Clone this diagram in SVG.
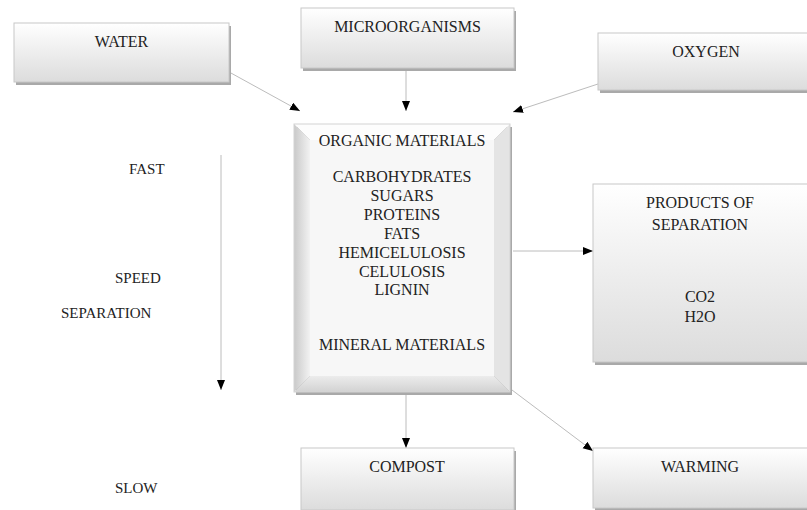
<svg xmlns="http://www.w3.org/2000/svg" width="807" height="510" viewBox="0 0 807 510">
<defs>
<linearGradient id="g" x1="0" y1="0" x2="0" y2="1">
<stop offset="0" stop-color="#ffffff"/>
<stop offset="1" stop-color="#dcdcdc"/>
</linearGradient>
<linearGradient id="gl" x1="0" y1="0" x2="1" y2="0">
<stop offset="0" stop-color="#c9c9c9"/>
<stop offset="1" stop-color="#f2f2f2"/>
</linearGradient>
<linearGradient id="gb" x1="0" y1="0" x2="0" y2="1">
<stop offset="0" stop-color="#ececec"/>
<stop offset="1" stop-color="#d2d2d2"/>
</linearGradient>
<marker id="ah" markerWidth="11" markerHeight="9" refX="10" refY="4" orient="auto" markerUnits="userSpaceOnUse">
<path d="M0,0 L10,4 L0,8 z" fill="#000"/>
</marker>
<style>
.box{fill:url(#g);stroke:#c8c8c8;stroke-width:1}
.sh{fill:#a9a9a9}
text{font-family:"Liberation Serif",Tinos,"Noto Serif","DejaVu Serif",FreeSerif,serif}
.t{font-size:16px;fill:#222;text-anchor:middle}
.l{font-size:15px;fill:#222}
.c{stroke:#bcbcbc;stroke-width:1;fill:none;marker-end:url(#ah)}
</style>
</defs>
<rect width="807" height="510" fill="#fff"/>

<g id="connectors">
<line class="c" x1="220" y1="67" x2="300" y2="111"/>
<line class="c" x1="406" y1="69" x2="406" y2="111"/>
<line class="c" x1="604" y1="82" x2="513" y2="112"/>
<line class="c" x1="221" y1="155" x2="221" y2="390"/>
<line class="c" x1="513" y1="251" x2="593" y2="251"/>
<line class="c" x1="406" y1="393" x2="406" y2="448"/>
<line class="c" x1="512" y1="390" x2="593" y2="451"/>
</g>

<g id="water">
<rect class="sh" x="16" y="26" width="215" height="59"/>
<rect class="box" x="14" y="23" width="215" height="59"/>
<text class="t" x="121.5" y="47">WATER</text>
</g>

<g id="microorganisms">
<rect class="sh" x="303" y="11" width="213" height="60"/>
<rect class="box" x="301" y="8" width="213" height="60"/>
<text class="t" x="407.5" y="32">MICROORGANISMS</text>
</g>

<g id="oxygen">
<rect class="sh" x="600" y="36" width="215" height="57"/>
<rect class="box" x="598" y="33" width="215" height="57"/>
<text class="t" x="706" y="57">OXYGEN</text>
</g>

<g id="materials">
<rect class="sh" x="296" y="127" width="216" height="268"/>
<polygon points="294,124 510,124 494,140 310,140" fill="#fdfdfd"/>
<polygon points="510,124 510,392 494,376 494,140" fill="#e4e4e4"/>
<polygon points="294,392 510,392 494,376 310,376" fill="url(#gb)"/>
<polygon points="294,124 310,140 310,376 294,392" fill="url(#gl)"/>
<rect x="310" y="140" width="184" height="236" fill="#f7f7f7"/>
<rect x="294" y="124" width="216" height="268" fill="none" stroke="#d4d4d4" stroke-width="1"/>
<text class="t" x="402" y="146">ORGANIC MATERIALS</text>
<text class="t" x="402" y="182">CARBOHYDRATES</text>
<text class="t" x="402" y="201">SUGARS</text>
<text class="t" x="402" y="220">PROTEINS</text>
<text class="t" x="402" y="239">FATS</text>
<text class="t" x="402" y="258">HEMICELULOSIS</text>
<text class="t" x="402" y="277">CELULOSIS</text>
<text class="t" x="402" y="295">LIGNIN</text>
<text class="t" x="402" y="350">MINERAL MATERIALS</text>
</g>

<g id="products">
<rect class="sh" x="595" y="187" width="214" height="178"/>
<rect class="box" x="593" y="184" width="216" height="178"/>
<text class="t" x="700" y="208">PRODUCTS OF</text>
<text class="t" x="700" y="230">SEPARATION</text>
<text class="t" x="700" y="302">CO2</text>
<text class="t" x="700" y="322">H2O</text>
</g>

<g id="compost">
<rect class="sh" x="303" y="451" width="213" height="62"/>
<rect class="box" x="301" y="448" width="213" height="62"/>
<text class="t" x="407" y="472">COMPOST</text>
</g>

<g id="warming">
<rect class="sh" x="595" y="451" width="216" height="60"/>
<rect class="box" x="593" y="448" width="216" height="60"/>
<text class="t" x="700" y="472">WARMING</text>
</g>

<g id="labels">
<text class="l" x="129" y="174">FAST</text>
<text class="l" x="115" y="283">SPEED</text>
<text class="l" x="61" y="318">SEPARATION</text>
<text class="l" x="115" y="493">SLOW</text>
</g>
</svg>
